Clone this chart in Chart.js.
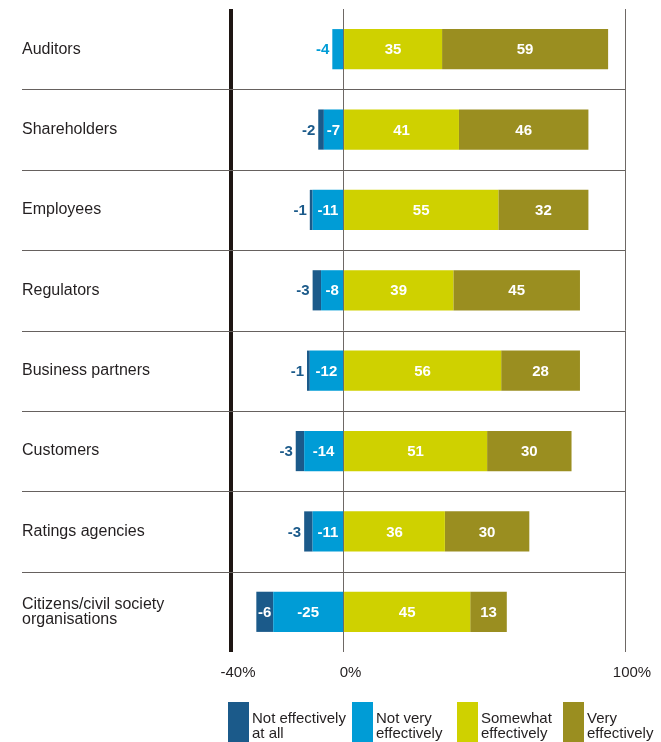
<!DOCTYPE html>
<html>
<head>
<meta charset="utf-8">
<script src="https://cdn.jsdelivr.net/npm/chart.js@4/dist/chart.umd.min.js"></script>
<style>
  body { margin: 0; background: #fff; }
  #wrap { position: relative; width: 661px; height: 742px; }
  #leyenda {
    position: absolute; left: 228px; top: 702px;
    display: grid; grid-template-columns: 124px 105px 106px auto;
    font-family: "Liberation Sans", Arial, sans-serif; font-size: 15px;
    line-height: 15px; color: #231f20;
  }
  .item { display: flex; }
  .caja { width: 21px; height: 40px; margin-right: 3px; flex: none; }
  .texto { margin-top: 8px; white-space: nowrap; }
</style>
</head>
<body>
<div id="wrap">
  <canvas id="grafica" width="661" height="742"></canvas>
  <div id="leyenda"></div>
</div>
<script>
// Datos
const categorias = [
  'Auditors', 'Shareholders', 'Employees', 'Regulators', 'Business partners',
  'Customers', 'Ratings agencies', ['Citizens/civil society', 'organisations']
];
const nadaEfectivo = [0, -2, -1, -3, -1, -3, -3, -6];
const pocoEfectivo = [-4, -7, -11, -8, -12, -14, -11, -25];
const algoEfectivo = [35, 41, 55, 39, 56, 51, 36, 45];
const muyEfectivo = [59, 46, 32, 45, 28, 30, 30, 13];
const ticksX = [-40, 0, 100];

// Colores
const AZUL_OSCURO = '#1b5a8a';
const AZUL = '#009cd6';
const AMARILLO = '#cfd100';
const OLIVA = '#9a8e20';

// Leyenda en HTML (en el orden del original)
const itemsLeyenda = [
  { color: AZUL_OSCURO, texto: 'Not effectively<br>at all' },
  { color: AZUL, texto: 'Not very<br>effectively' },
  { color: AMARILLO, texto: 'Somewhat<br>effectively' },
  { color: OLIVA, texto: 'Very<br>effectively' }
];
document.getElementById('leyenda').innerHTML = itemsLeyenda.map(it =>
  `<div class="item"><div class="caja" style="background:${it.color}"></div><div class="texto">${it.texto}</div></div>`
).join('');

// Líneas separadoras entre filas (desde las etiquetas hasta el 100%)
const separadores = {
  id: 'separadores',
  beforeDatasetsDraw(chart) {
    const y = chart.scales.y;
    const ctx = chart.ctx;
    ctx.save();
    ctx.strokeStyle = '#66615e';
    ctx.lineWidth = 1.2;
    for (let i = 0; i < categorias.length - 1; i++) {
      const py = Math.round((y.getPixelForValue(i) + y.getPixelForValue(i + 1)) / 2) + 0.5;
      ctx.beginPath();
      ctx.moveTo(y.left, py);
      ctx.lineTo(chart.chartArea.right, py);
      ctx.stroke();
    }
    ctx.restore();
  }
};

// Etiquetas de valor: dentro en blanco, o fuera a la izquierda si no caben
const etiquetas = {
  id: 'etiquetas',
  afterDatasetsDraw(chart) {
    const ctx = chart.ctx;
    ctx.save();
    ctx.font = 'bold 15px "Liberation Sans Narrow", "Arial Narrow", Arial, sans-serif';
    ctx.textBaseline = 'middle';
    chart.data.datasets.forEach((ds, i) => {
      chart.getDatasetMeta(i).data.forEach((bar, j) => {
        const v = ds.data[j];
        if (!v) return;
        const txt = String(v);
        const ancho = Math.abs(bar.x - bar.base);
        const tw = ctx.measureText(txt).width;
        if (ancho >= tw + 2) {
          ctx.fillStyle = '#ffffff';
          ctx.textAlign = 'center';
          ctx.fillText(txt, (bar.x + bar.base) / 2, bar.y + 1);
        } else {
          ctx.fillStyle = ds.backgroundColor;
          ctx.textAlign = 'right';
          ctx.fillText(txt, Math.min(bar.x, bar.base) - 3, bar.y + 1);
        }
      });
    });
    ctx.restore();
  }
};

const ctx = document.getElementById('grafica').getContext('2d');
const chart = new Chart(ctx, {
  type: 'bar',
  data: {
    labels: categorias,
    datasets: [
      // el orden importa para apilar los negativos desde el 0
      { label: 'Not very effectively', data: pocoEfectivo, backgroundColor: AZUL },
      { label: 'Not effectively at all', data: nadaEfectivo, backgroundColor: AZUL_OSCURO },
      { label: 'Somewhat effectively', data: algoEfectivo, backgroundColor: AMARILLO },
      { label: 'Very effectively', data: muyEfectivo, backgroundColor: OLIVA }
    ]
  },
  options: {
    indexAxis: 'y',
    responsive: false,
    animation: false,
    datasets: { bar: { categoryPercentage: 1, barPercentage: 0.5, borderWidth: 0 } },
    layout: { padding: { left: 22, top: 9, right: 36, bottom: 48 } },
    plugins: {
      legend: { display: false },
      tooltip: { enabled: false }
    },
    scales: {
      x: {
        stacked: true,
        min: -40,
        max: 100,
        afterBuildTicks: s => { s.ticks = ticksX.map(v => ({ value: v })); },
        border: { display: false },
        grid: {
          drawTicks: false,
          color: c => c.tick && c.tick.value === -40 ? '#1e1613' : '#6e6865',
          lineWidth: c => c.tick && c.tick.value === -40 ? 4 : 1
        },
        ticks: {
          callback: v => v + '%',
          color: '#231f20',
          padding: 12,
          labelOffset: 7,
          maxRotation: 0,
          font: { family: '"Liberation Sans", Arial, sans-serif', size: 15 }
        }
      },
      y: {
        stacked: true,
        afterFit: s => { s.width = 209; s.paddingTop = 0; s.paddingBottom = 0; },
        border: { display: false },
        grid: { display: false },
        ticks: {
          crossAlign: 'far',
          color: '#231f20',
          font: { family: '"Liberation Sans", Arial, sans-serif', size: 16, lineHeight: 0.95 }
        }
      }
    }
  },
  plugins: [separadores, etiquetas]
});
</script>
</body>
</html>
